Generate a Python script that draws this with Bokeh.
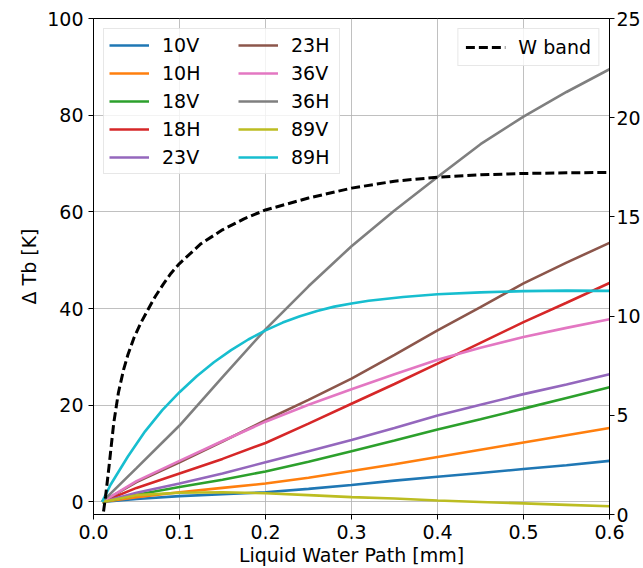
from bokeh.plotting import figure
from bokeh.models import (Range1d, LinearAxis, Legend, LegendItem, FixedTicker,
                          PrintfTickFormatter)
from bokeh.embed import file_html
from bokeh.resources import INLINE

# ---- data ----
lwp = [0.01, 0.05, 0.10, 0.15, 0.20, 0.25, 0.30, 0.35, 0.40, 0.45, 0.50, 0.55, 0.60]

tb_10V = [0, 0.6, 1.2, 1.6, 2.0, 2.7, 3.5, 4.4, 5.2, 6.0, 6.8, 7.6, 8.5]
tb_10H = [0, 1.0, 2.0, 2.9, 3.8, 5.0, 6.4, 7.8, 9.3, 10.8, 12.3, 13.8, 15.3]
tb_18V = [0, 1.5, 3.1, 4.6, 6.3, 8.3, 10.5, 12.7, 15.0, 17.1, 19.3, 21.5, 23.7]
tb_18H = [0, 2.9, 5.9, 8.9, 12.2, 16.2, 20.3, 24.4, 28.6, 32.9, 37.2, 41.2, 45.3]
tb_23V = [0, 1.9, 3.8, 5.9, 8.2, 10.5, 12.8, 15.3, 17.9, 20.1, 22.3, 24.3, 26.4]
tb_23H = [0, 4.1, 8.2, 12.5, 16.9, 21.1, 25.5, 30.4, 35.5, 40.3, 45.2, 49.5, 53.6]
tb_36V = [0, 4.3, 8.5, 12.6, 16.6, 20.1, 23.3, 26.4, 29.4, 31.9, 34.1, 36.0, 37.8]
tb_36H = [0, 7.0, 15.8, 25.8, 35.7, 44.6, 52.9, 60.3, 67.2, 74.0, 79.7, 84.8, 89.5]
tb_89V = [0, 1.4, 1.9, 2.0, 1.8, 1.4, 1.0, 0.7, 0.3, 0.0, -0.3, -0.6, -0.9]

lwp_89H = [0.01, 0.02, 0.04, 0.06, 0.08, 0.10, 0.12, 0.14, 0.16, 0.18, 0.20, 0.22,
           0.24, 0.26, 0.28, 0.30, 0.32, 0.36, 0.40, 0.45, 0.50, 0.55, 0.60]
tb_89H = [0, 3.6, 9.4, 14.6, 19.0, 22.7, 26.0, 28.9, 31.4, 33.6, 35.5, 37.1,
          38.4, 39.5, 40.4, 41.05, 41.6, 42.4, 42.95, 43.35, 43.6, 43.7, 43.65]

lwp_w = [0.010, 0.0112, 0.014, 0.018, 0.0235, 0.029, 0.035, 0.040, 0.047, 0.055,
         0.063, 0.072, 0.081, 0.090, 0.10, 0.125, 0.15, 0.175, 0.20, 0.25, 0.30,
         0.35, 0.40, 0.45, 0.50, 0.55, 0.60]
tb_w = [-0.5, 0.0, 0.9, 2.4, 4.6, 6.15, 7.3, 8.05, 8.9, 9.65, 10.3, 11.0, 11.6,
        12.15, 12.65, 13.65, 14.35, 14.9, 15.35, 15.95, 16.45, 16.8, 17.0, 17.12,
        17.19, 17.22, 17.24]

labels = ["10V", "10H", "18V", "18H", "23V", "23H", "36V", "36H", "89V", "89H"]
x_ticks = [0.0, 0.1, 0.2, 0.3, 0.4, 0.5, 0.6]
y_ticks = [0, 20, 40, 60, 80, 100]
w_ticks = [0, 5, 10, 15, 20, 25]

colors = ["#1f77b4", "#ff7f0e", "#2ca02c", "#d62728", "#9467bd",
          "#8c564b", "#e377c2", "#7f7f7f", "#bcbd22", "#17becf"]

FONT = "DejaVu Sans"
FS = "19px"

p = figure(width=643, height=568, output_backend="svg", toolbar_location=None,
           x_range=Range1d(0, 0.6), y_range=Range1d(-2.6, 100),
           min_border_left=93, min_border_right=31, min_border_top=18,
           min_border_bottom=54)
p.extra_y_ranges = {"w": Range1d(0, 25)}
p.outline_line_color = "black"
p.outline_line_width = 1
p.background_fill_color = "white"
p.border_fill_color = "white"

right_axis = LinearAxis(y_range_name="w")
p.add_layout(right_axis, "right")

p.xaxis.ticker = FixedTicker(ticks=x_ticks)
p.xaxis.formatter = PrintfTickFormatter(format="%.1f")
p.yaxis[0].ticker = FixedTicker(ticks=y_ticks)
right_axis.ticker = FixedTicker(ticks=w_ticks)

for ax in [p.xaxis[0], p.yaxis[0], right_axis]:
    ax.major_label_text_font = FONT
    ax.major_label_text_font_size = FS
    ax.major_label_text_color = "black"
    ax.axis_label_text_font = FONT
    ax.axis_label_text_font_size = FS
    ax.axis_label_text_font_style = "normal"
    ax.axis_label_text_color = "black"
    ax.major_tick_in = 0
    ax.major_tick_out = 5
    ax.major_tick_line_color = "black"
    ax.minor_tick_line_color = None
    ax.axis_line_color = "black"
    ax.major_label_standoff = 5
right_axis.major_label_standoff = 2

p.xaxis.axis_label = "Liquid Water Path [mm]"
p.yaxis[0].axis_label = "\u0394 Tb [K]"
p.xaxis.axis_label_standoff = 2
p.yaxis[0].axis_label_standoff = 4

p.xgrid.ticker = FixedTicker(ticks=x_ticks)
p.ygrid.ticker = FixedTicker(ticks=y_ticks)
p.grid.grid_line_color = "#b0b0b0"
p.grid.grid_line_width = 1
p.grid.grid_line_alpha = 0.8

series = [tb_10V, tb_10H, tb_18V, tb_18H, tb_23V, tb_23H, tb_36V, tb_36H, tb_89V]
renderers = []
for ys, c in zip(series, colors[:9]):
    renderers.append(p.line(lwp, ys, line_color=c, line_width=2.6))
renderers.append(p.line(lwp_89H, tb_89H, line_color=colors[9], line_width=2.6))

rw = p.line(lwp_w, tb_w, y_range_name="w", line_color="black", line_width=3,
            line_dash="9 4")


def style(lg, pad):
    lg.label_text_font = FONT
    lg.label_text_font_size = FS
    lg.label_text_color = "black"
    lg.glyph_width = 40
    lg.glyph_height = 22
    lg.label_height = 22
    lg.label_standoff = 13
    lg.padding = pad
    lg.spacing = 6
    lg.margin = 10
    lg.border_line_color = "#d0d0d0"
    lg.border_line_width = 1
    lg.background_fill_alpha = 0.8


# legend: two columns, first one carries the box
leg1a = Legend(items=[LegendItem(label=l, renderers=[r])
                      for l, r in zip(labels[:5], renderers[:5])],
               location="top_left")
style(leg1a, 5)
leg1a.label_width = 172
leg1b = Legend(items=[LegendItem(label=l, renderers=[r])
                      for l, r in zip(labels[5:], renderers[5:])],
               location=(145, 346))
style(leg1b, 5)
leg1b.border_line_color = None
leg1b.background_fill_alpha = 0.0

leg2 = Legend(items=[LegendItem(label="W band", renderers=[rw])], location="top_right")
style(leg2, 7)

p.add_layout(leg1a)
p.add_layout(leg1b)
p.add_layout(leg2)

open("out.html", "w").write(file_html(p, INLINE))
